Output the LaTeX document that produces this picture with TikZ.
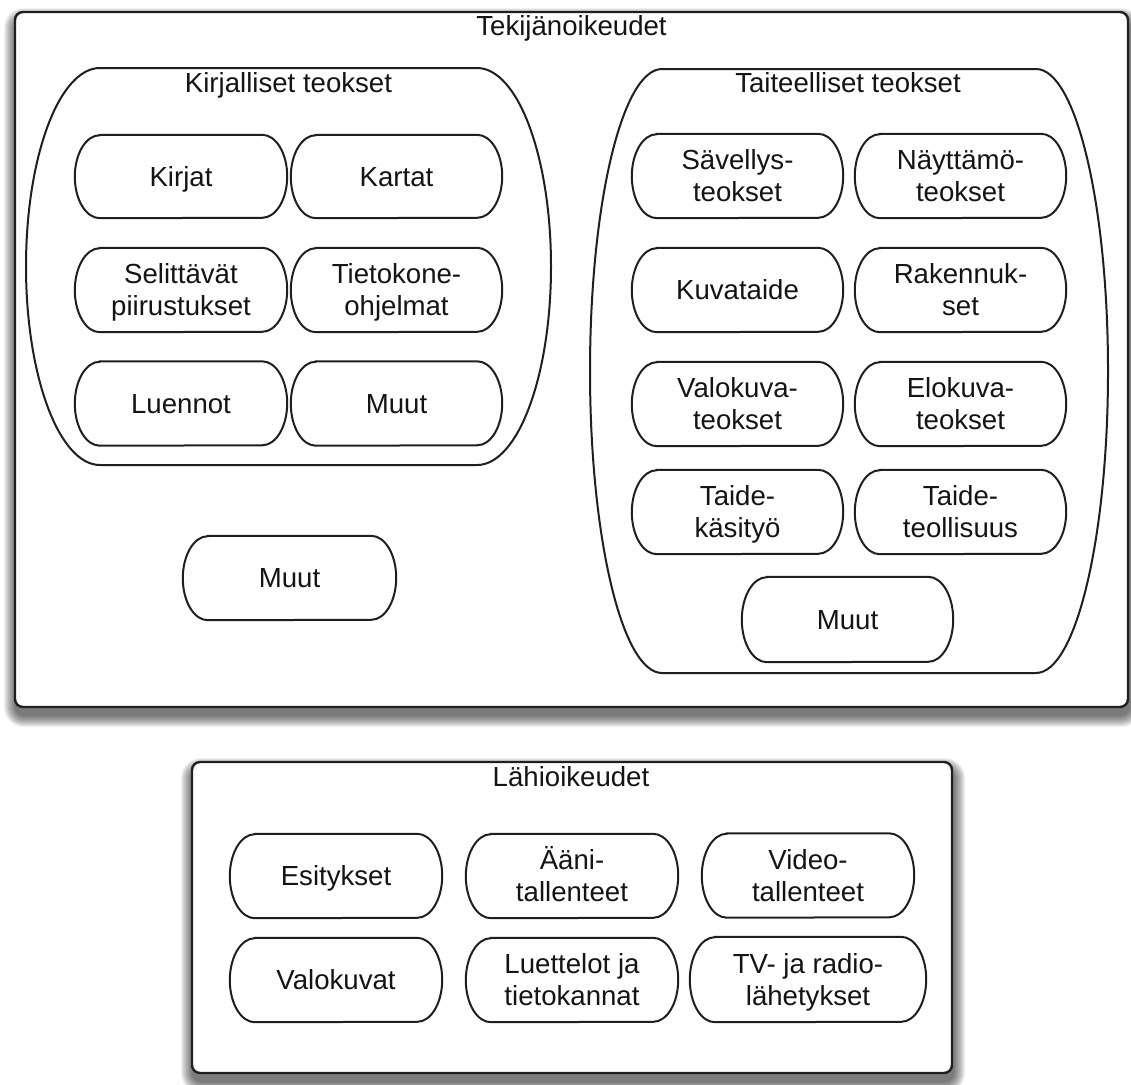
\documentclass[tikz,border=0pt]{standalone}
\usepackage{fontspec}
\setmainfont{Liberation Sans}
\newcommand\ls{\rule[-6.1pt]{0pt}{31.9pt}}
\tikzset{
  lbl/.style={font=\fontsize{27.6}{31.9}\selectfont, align=center, inner sep=0pt, text=black!92},
  pillline/.style={draw=black!88, line width=2pt},
  frameline/.style={draw=black!88, line width=2.4pt, fill=white, rounded corners=8pt},
  holder/.style={inner sep=0pt, outer sep=0pt},
}
% border of a pill/capsule shaped node: name, height, end radius
\newcommand\pillshape[3]{%
  \draw[pillline] ([xshift=#3pt]#1.north west) -- ([xshift=-#3pt]#1.north east)
     arc[start angle=90,end angle=-90,x radius=#3pt,y radius=#2pt/2]
     -- ([xshift=#3pt]#1.south west)
     arc[start angle=270,end angle=90,x radius=#3pt,y radius=#2pt/2] -- cycle;
}
% name, cx, cy, w, h, text
\newcommand\pill[6]{%
  \node[lbl, minimum width=#4pt, minimum height=#5pt] (#1) at (#2,-#3) {#6};
  \pillshape{#1}{#5}{25}
}
% soft shadow behind a frame: x1,y1,x2,y2 (y downwards)
\newcommand\softshadow[4]{%
  \foreach \i in {1,...,12}{%
    \pgfmathsetmacro\rr{8+\i}%
    \fill[black, opacity=0.06, rounded corners=\rr pt]
      (#1-\i+1,-#2+\i-8) rectangle (#3+\i+1,-#4-\i-8);
  }%
}
\begin{document}
\begin{tikzpicture}[x=1pt,y=1pt]
\useasboundingbox (0,0) rectangle (1131,-1084);

% ---------- Tekijanoikeudet ----------
\softshadow{15}{12}{1128}{707}
\node[holder, frameline, minimum width=1113pt, minimum height=695pt] (tek) at (571.5,-359.5) {};
\node[lbl] (tekt) at (571.5,-26) {\ls Tekijänoikeudet};

% Kirjalliset teokset
\node[holder, minimum width=525pt, minimum height=397pt] (kirj) at (288.5,-266.5) {};
\pillshape{kirj}{397}{74}
\node[lbl] (kirjt) at (288.5,-83) {\ls Kirjalliset teokset};

\pill{kirjat}{181}{176.5}{212}{83}{\ls Kirjat}
\pill{kartat}{396.5}{176.5}{211}{83}{\ls Kartat}
\pill{selit}{181}{290}{212}{84}{\ls Selittävät\\\ls piirustukset}
\pill{tieto}{396.5}{290}{211}{84}{\ls Tietokone-\\\ls ohjelmat}
\pill{luen}{181}{403.5}{212}{84}{\ls Luennot}
\pill{kmuut}{396.5}{403.5}{211}{84}{\ls Muut}

% Muut (outer)
\pill{muut}{289.5}{578}{213}{84}{\ls Muut}

% Taiteelliset teokset
\node[holder, minimum width=518pt, minimum height=604pt] (tait) at (849,-371) {};
\pillshape{tait}{604}{72}
\node[lbl] (taitt) at (848,-83) {\ls Taiteelliset teokset};

\pill{savel}{737.5}{176}{211}{84}{\ls Sävellys-\\\ls teokset}
\pill{nayt}{960.5}{176}{211}{84}{\ls Näyttämö-\\\ls teokset}
\pill{kuva}{737.5}{290}{211}{84}{\ls Kuvataide}
\pill{raken}{960.5}{290}{211}{84}{\ls Rakennuk-\\\ls set}
\pill{valok}{737.5}{404}{211}{84}{\ls Valokuva-\\\ls teokset}
\pill{elok}{960.5}{404}{211}{84}{\ls Elokuva-\\\ls teokset}
\pill{tkasi}{737.5}{512}{211}{84}{\ls Taide-\\\ls käsityö}
\pill{tteol}{960.5}{512}{211}{84}{\ls Taide-\\\ls teollisuus}
\pill{tmuut}{847.5}{619.5}{211}{85}{\ls Muut}

% ---------- Lahioikeudet ----------
\softshadow{192}{762}{952}{1073}
\node[holder, frameline, minimum width=760pt, minimum height=311pt] (lahi) at (572,-917.5) {};
\node[lbl] (lahit) at (571,-777) {\ls Lähioikeudet};

\pill{esit}{336}{876}{212}{84}{\ls Esitykset}
\pill{aani}{572}{876}{212}{84}{\ls Ääni-\\\ls tallenteet}
\pill{video}{808}{875.5}{212}{84}{\ls Video-\\\ls tallenteet}
\pill{valo}{336}{980}{212}{84}{\ls Valokuvat}
\pill{luet}{572}{980}{212}{84}{\ls Luettelot ja\\\ls tietokannat}
\pill{tvra}{808}{979.5}{236}{85}{\ls TV- ja radio-\\\ls lähetykset}
\end{tikzpicture}
\end{document}
